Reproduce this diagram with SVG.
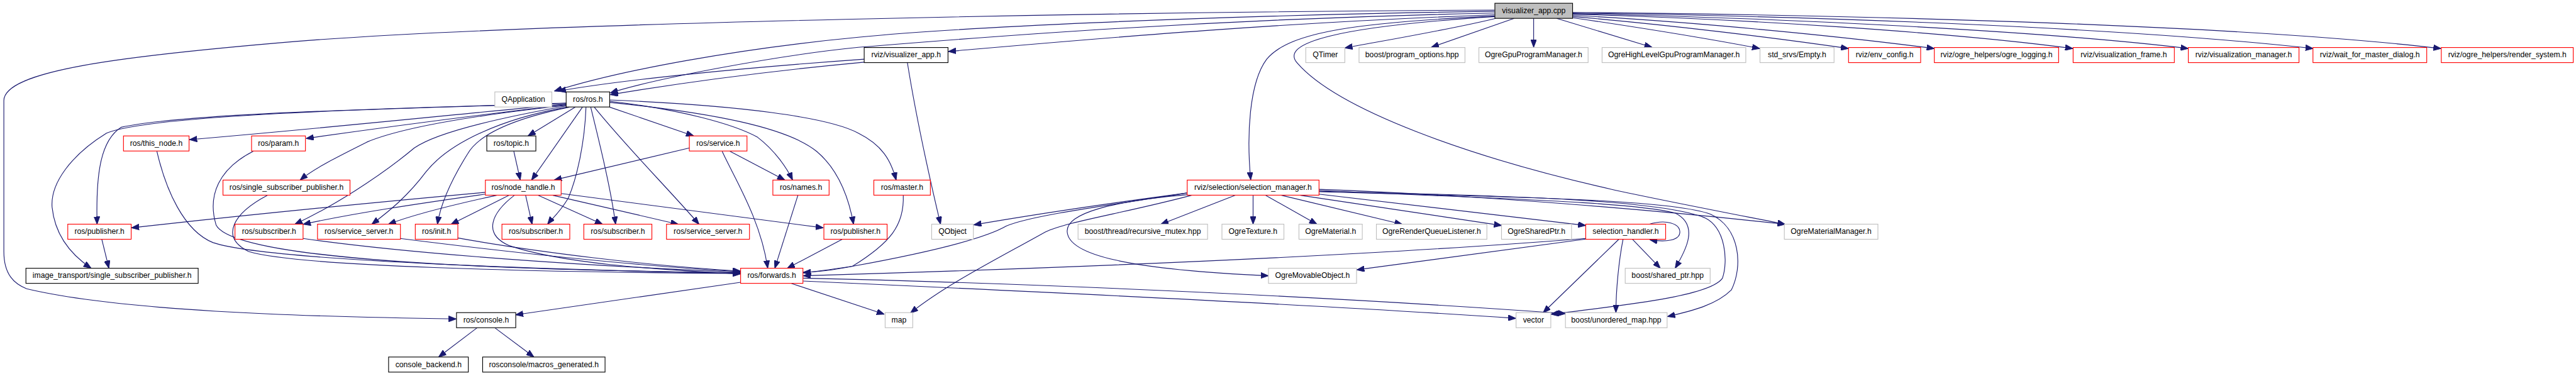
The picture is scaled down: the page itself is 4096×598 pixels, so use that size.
<svg xmlns="http://www.w3.org/2000/svg" width="4096" height="598" viewBox="0 0 4096 598">
<defs>
<style>
.n rect{fill:#fff;stroke-width:1.2}
.red rect{stroke:#ff0000}
.gray rect{stroke:#bfbfbf}
.blk rect{stroke:#000}
.root rect{fill:#bfbfbf;stroke:#000}
.n text{font-family:"Liberation Sans",Arial,sans-serif;font-size:13px;text-anchor:middle;fill:#000}
.e path{fill:none;stroke:#191970;stroke-width:1.2;marker-end:url(#ah)}
</style>
<marker id="ah" viewBox="0 0 13 10" refX="13" refY="5" markerWidth="13" markerHeight="10" markerUnits="userSpaceOnUse" orient="auto">
<path d="M0,0 L13,5 L0,10 Z" fill="#191970" stroke="#191970"/>
</marker>
</defs>
<rect x="0" y="0" width="4096" height="598" fill="#fff"/>
<g transform="scale(0.94118)">
<g id="connectors" class="e">
<path d="M2525,17 C1900,20 900,38 500,70 C200,95 6.5,120 6.5,170 L6.5,425 C6.5,465 25,480 45,488 C200,525 500,535 771,539"/>
<path d="M2525,19 C2000,27 1600,48 1450,63 C1250,82 1050,118 936.5,154"/>
<path d="M2525,22 C2000,33 1600,68 1450,80 C1300,95 1100,135 1031,157"/>
<path d="M2525,25 C2150,38 1800,70 1602,87"/>
<path d="M2525,27 C2300,38 2180,52 2140,100 C2110,140 2106,230 2113,304"/>
<path d="M2526,28 C2260,45 2160,72 2192,107 C2260,185 2480,265 2723,320 C2800,337 2930,362 3016,379"/>
<path d="M2527,31 C2450,50 2330,70 2272,81"/>
<path d="M2558,31 L2418,80"/>
<path d="M2591,31 L2591,80"/>
<path d="M2630,31 L2791,80"/>
<path d="M2657,30 C2780,48 2900,68 2973,82"/>
<path d="M2657,28 C2820,42 3000,64 3123,82"/>
<path d="M2657,26 C2850,36 3100,60 3268,82"/>
<path d="M2657,24 C2950,32 3300,55 3502,82"/>
<path d="M2657,23 C3000,30 3450,52 3697,82"/>
<path d="M2657,22 C3100,28 3600,48 3908,82"/>
<path d="M2657,21 C3200,26 3800,44 4124,82"/>
<path d="M1460,100 C1250,115 1050,135 943,154"/>
<path d="M1460,105 C1300,120 1150,140 1031,160"/>
<path d="M1533,106 C1548,200 1575,320 1589,379"/>
<path d="M972,181 L892,229.7"/>
<path d="M984,181 L898,304.3"/>
<path d="M990,181 C988,240 975,300 960,335 C945,360 932,370 925,379"/>
<path d="M998,181 C1015,250 1032,320 1040,379"/>
<path d="M1004,181 C1060,250 1130,320 1181,379"/>
<path d="M1030,181 L1172,229.7"/>
<path d="M1030,171 C1150,185 1240,210 1280,232 C1310,255 1330,285 1339,304.3"/>
<path d="M1030,173 C1200,190 1330,215 1380,256 C1420,290 1435,340 1442,379"/>
<path d="M1030,169 C1250,178 1400,198 1450,225 C1490,245 1505,270 1514,304.3"/>
<path d="M957,176 C800,190 600,212 320,236"/>
<path d="M957,177 C800,195 650,215 517,234"/>
<path d="M957,178 C800,195 680,215 620,240 C570,265 530,285 507,304.3"/>
<path d="M957,174 C700,183 320,190 205,215 C168,238 162,300 164,379"/>
<path d="M957,175 C700,182 260,192 180,225 C120,262 85,310 88,350 C92,390 112,425 154,453.3"/>
<path d="M957,179 C850,198 740,222 700,250 C640,300 560,350 498,379"/>
<path d="M958,181 C850,200 760,240 720,290 C690,330 660,355 628,379"/>
<path d="M962,181 C870,200 810,225 790,260 C765,300 745,340 739,379"/>
<path d="M868,255.5 L879,304.3"/>
<path d="M1165,250 L936,304.3"/>
<path d="M1233,255.5 L1326,304.3"/>
<path d="M1220,255.5 C1240,300 1285,370 1297,453.3"/>
<path d="M1348,330 L1309,453.3"/>
<path d="M1423,404.3 L1330,453.3"/>
<path d="M1526,330 C1528,380 1505,410 1440,450 C1400,458 1380,460 1357,460"/>
<path d="M2006,326 C1850,350 1740,365 1700,382 C1660,405 1550,430 1440,450 C1400,456 1380,459 1357,461"/>
<path d="M2679,403 C2400,425 2000,447 1357,466"/>
<path d="M1357,470 C1800,480 2300,505 2645,530"/>
<path d="M1357,475 C1800,495 2300,520 2561,538"/>
<path d="M1337,479 L1494,531"/>
<path d="M1251,477 L871,532"/>
<path d="M806,554 L741,603.3"/>
<path d="M836,554 L902,603.3"/>
<path d="M820,325 C600,345 400,365 222,385"/>
<path d="M820,328 C700,345 600,360 512,379"/>
<path d="M839,330 C770,345 700,362 656,379"/>
<path d="M860,330 L762,379"/>
<path d="M869,330 C830,360 815,395 860,415 C950,445 1100,455 1251,463"/>
<path d="M888,330 L899,379"/>
<path d="M909,330 L1018,379"/>
<path d="M934,330 L1146,379"/>
<path d="M948,327 L1391,385"/>
<path d="M265,255.5 C280,320 310,390 360,410 C450,440 900,455 1251,462"/>
<path d="M428,255.5 C370,285 350,330 365,380 C390,430 700,455 1251,461"/>
<path d="M452,330 C395,360 370,400 420,425 C500,450 900,460 1251,462"/>
<path d="M512,403 C700,430 1000,450 1251,460"/>
<path d="M676,403 C850,425 1050,448 1251,459"/>
<path d="M773,402 C900,425 1100,450 1251,458"/>
<path d="M172,404.3 L184,453.3"/>
<path d="M2006,326 C1900,340 1750,362 1645,380"/>
<path d="M2013,330 C1900,360 1800,375 1766,392 C1680,440 1600,480 1538,529"/>
<path d="M2006,329 C1880,340 1800,360 1803,392 C1806,430 1900,455 2143,466"/>
<path d="M2087,330 L1961,379"/>
<path d="M2117,330 L2117,379"/>
<path d="M2138,330 L2225,379"/>
<path d="M2165,330 L2369,379"/>
<path d="M2197,330 L2537,381"/>
<path d="M2228,328 L2679,381"/>
<path d="M2228,322 C2500,335 2750,340 2830,360 C2870,380 2850,420 2830,453.3"/>
<path d="M2228,320 C2500,330 2800,355 3016,379"/>
<path d="M2228,323 C2500,330 2800,335 2880,368 C2915,385 2920,440 2910,470 C2890,500 2750,515 2620,531"/>
<path d="M2228,324 C2500,332 2820,335 2890,362 C2940,385 2945,450 2925,490 C2900,515 2860,525 2817,535"/>
<path d="M2679,404 L2292,456"/>
<path d="M2735,404.3 L2607,528.3"/>
<path d="M2742,404.3 C2735,440 2730,490 2730,528.3"/>
<path d="M2758,404.3 L2805,453.3"/>
<path d="M2786,379 C2815,370 2838,378 2838,392 C2838,406 2815,410 2787,405"/>
</g>
<g id="n1" class="n root"><rect x="2525.5" y="5.5" width="131.3" height="25.5"/><text x="2591.2" y="22">visualizer_app.cpp</text></g>
<g id="n2" class="n gray"><rect x="836" y="155.3" width="96.3" height="25.5"/><text x="884.2" y="172.1">QApplication</text></g>
<g id="n3" class="n blk"><rect x="956.5" y="155.3" width="73.5" height="25.5"/><text x="993.3" y="172.1">ros/ros.h</text></g>
<g id="n4" class="n blk"><rect x="1460" y="80.3" width="141.6" height="25.5"/><text x="1530.8" y="97.1">rviz/visualizer_app.h</text></g>
<g id="n5" class="n gray"><rect x="2206" y="80.3" width="66" height="25.5"/><text x="2239" y="97.1">QTimer</text></g>
<g id="n6" class="n gray"><rect x="2296" y="80.3" width="179" height="25.5"/><text x="2385.5" y="97.1">boost/program_options.hpp</text></g>
<g id="n7" class="n gray"><rect x="2498.5" y="80.3" width="184.5" height="25.5"/><text x="2590.8" y="97.1">OgreGpuProgramManager.h</text></g>
<g id="n8" class="n gray"><rect x="2706.6" y="80.3" width="242.8" height="25.5"/><text x="2828" y="97.1">OgreHighLevelGpuProgramManager.h</text></g>
<g id="n9" class="n gray"><rect x="2973.4" y="80.3" width="125.1" height="25.5"/><text x="3036" y="97.1">std_srvs/Empty.h</text></g>
<g id="n10" class="n red"><rect x="3123" y="80.3" width="121.8" height="25.5"/><text x="3183.9" y="97.1">rviz/env_config.h</text></g>
<g id="n11" class="n red"><rect x="3267.9" y="80.3" width="210" height="25.5"/><text x="3372.9" y="97.1">rviz/ogre_helpers/ogre_logging.h</text></g>
<g id="n12" class="n red"><rect x="3502.4" y="80.3" width="171" height="25.5"/><text x="3587.9" y="97.1">rviz/visualization_frame.h</text></g>
<g id="n13" class="n red"><rect x="3697" y="80.3" width="187" height="25.5"/><text x="3790.5" y="97.1">rviz/visualization_manager.h</text></g>
<g id="n14" class="n red"><rect x="3907.6" y="80.3" width="192.2" height="25.5"/><text x="4003.7" y="97.1">rviz/wait_for_master_dialog.h</text></g>
<g id="n15" class="n red"><rect x="4124.4" y="80.3" width="222.9" height="25.5"/><text x="4235.9" y="97.1">rviz/ogre_helpers/render_system.h</text></g>
<g id="n16" class="n red"><rect x="2005.7" y="304.3" width="222.7" height="25.5"/><text x="2117" y="321.1">rviz/selection/selection_manager.h</text></g>
<g id="n17" class="n gray"><rect x="3014.5" y="378.8" width="158.1" height="25.5"/><text x="3093.5" y="395.6">OgreMaterialManager.h</text></g>
<g id="n18" class="n blk"><rect x="822.4" y="229.7" width="82.9" height="25.5"/><text x="863.8" y="246.5">ros/topic.h</text></g>
<g id="n19" class="n red"><rect x="1164.6" y="229.7" width="97.4" height="25.5"/><text x="1213.3" y="246.5">ros/service.h</text></g>
<g id="n20" class="n red"><rect x="208.6" y="229.7" width="110.8" height="25.5"/><text x="264" y="246.5">ros/this_node.h</text></g>
<g id="n21" class="n red"><rect x="425" y="229.7" width="91" height="25.5"/><text x="470.5" y="246.5">ros/param.h</text></g>
<g id="n22" class="n red"><rect x="820" y="304.3" width="128" height="25.5"/><text x="884" y="321.1">ros/node_handle.h</text></g>
<g id="n23" class="n red"><rect x="1305.7" y="304.3" width="95" height="25.5"/><text x="1353.2" y="321.1">ros/names.h</text></g>
<g id="n24" class="n red"><rect x="376.7" y="304.3" width="214.6" height="25.5"/><text x="484" y="321.1">ros/single_subscriber_publisher.h</text></g>
<g id="n25" class="n red"><rect x="1476.3" y="304.3" width="95.5" height="25.5"/><text x="1524" y="321.1">ros/master.h</text></g>
<g id="n26" class="n red"><rect x="114.5" y="378.8" width="107.1" height="25.5"/><text x="168" y="395.6">ros/publisher.h</text></g>
<g id="n27" class="n red"><rect x="397" y="378.8" width="115" height="25.5"/><text x="454.5" y="395.6">ros/subscriber.h</text></g>
<g id="n28" class="n red"><rect x="536.4" y="378.8" width="140.1" height="25.5"/><text x="606.4" y="395.6">ros/service_server.h</text></g>
<g id="n29" class="n red"><rect x="701.6" y="378.8" width="71.9" height="25.5"/><text x="737.5" y="395.6">ros/init.h</text></g>
<g id="n30" class="n red"><rect x="848" y="378.8" width="114.6" height="25.5"/><text x="905.3" y="395.6">ros/subscriber.h</text></g>
<g id="n31" class="n red"><rect x="986.3" y="378.8" width="115" height="25.5"/><text x="1043.8" y="395.6">ros/subscriber.h</text></g>
<g id="n32" class="n red"><rect x="1126" y="378.8" width="140.2" height="25.5"/><text x="1196.1" y="395.6">ros/service_server.h</text></g>
<g id="n33" class="n red"><rect x="1391.9" y="378.8" width="106.8" height="25.5"/><text x="1445.3" y="395.6">ros/publisher.h</text></g>
<g id="n34" class="n gray"><rect x="1574" y="378.8" width="70.4" height="25.5"/><text x="1609.2" y="395.6">QObject</text></g>
<g id="n35" class="n gray"><rect x="1821.3" y="378.8" width="218.8" height="25.5"/><text x="1930.7" y="395.6">boost/thread/recursive_mutex.hpp</text></g>
<g id="n36" class="n gray"><rect x="2064.4" y="378.8" width="104.7" height="25.5"/><text x="2116.8" y="395.6">OgreTexture.h</text></g>
<g id="n37" class="n gray"><rect x="2194.5" y="378.8" width="107" height="25.5"/><text x="2248" y="395.6">OgreMaterial.h</text></g>
<g id="n38" class="n gray"><rect x="2325.3" y="378.8" width="186.7" height="25.5"/><text x="2418.7" y="395.6">OgreRenderQueueListener.h</text></g>
<g id="n39" class="n gray"><rect x="2536.7" y="378.8" width="118.3" height="25.5"/><text x="2595.9" y="395.6">OgreSharedPtr.h</text></g>
<g id="n40" class="n red"><rect x="2679" y="378.8" width="135" height="25.5"/><text x="2746.5" y="395.6">selection_handler.h</text></g>
<g id="n41" class="n blk"><rect x="43.8" y="453.3" width="291" height="25.5"/><text x="189.3" y="470.1">image_transport/single_subscriber_publisher.h</text></g>
<g id="n42" class="n red"><rect x="1251.2" y="453.3" width="105.3" height="25.5"/><text x="1303.9" y="470.1">ros/forwards.h</text></g>
<g id="n43" class="n gray"><rect x="2143" y="453.3" width="148.8" height="25.5"/><text x="2217.4" y="470.1">OgreMovableObject.h</text></g>
<g id="n44" class="n gray"><rect x="2745.7" y="453.3" width="143.5" height="25.5"/><text x="2817.5" y="470.1">boost/shared_ptr.hpp</text></g>
<g id="n45" class="n blk"><rect x="771.2" y="528.3" width="100.1" height="25.5"/><text x="821.3" y="545.1">ros/console.h</text></g>
<g id="n46" class="n gray"><rect x="1495.4" y="528.3" width="46.6" height="25.5"/><text x="1518.7" y="545.1">map</text></g>
<g id="n47" class="n gray"><rect x="2561.3" y="528.3" width="58.7" height="25.5"/><text x="2590.7" y="545.1">vector</text></g>
<g id="n48" class="n gray"><rect x="2644.7" y="528.3" width="171.8" height="25.5"/><text x="2730.6" y="545.1">boost/unordered_map.hpp</text></g>
<g id="n49" class="n blk"><rect x="656.5" y="603.3" width="134.7" height="25.5"/><text x="723.9" y="620.1">console_backend.h</text></g>
<g id="n50" class="n blk"><rect x="815.4" y="603.3" width="206.8" height="25.5"/><text x="918.8" y="620.1">rosconsole/macros_generated.h</text></g>
</g>
</svg>
